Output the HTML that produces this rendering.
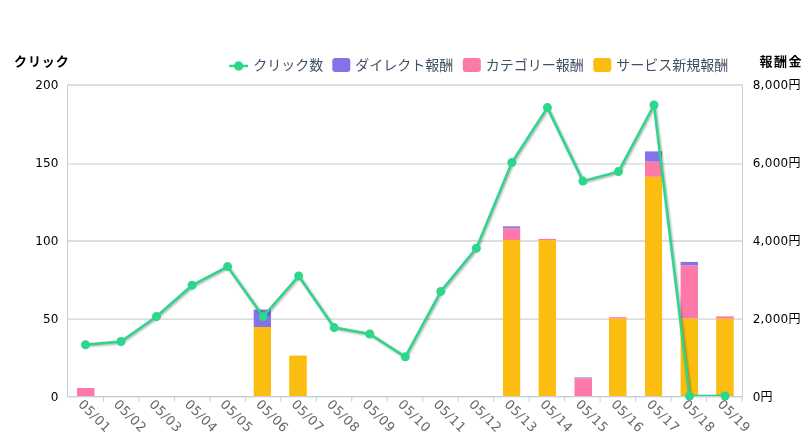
<!DOCTYPE html>
<html lang="ja"><head><meta charset="utf-8"><title>chart</title>
<style>
html,body{margin:0;padding:0;background:#fff;}
body{width:808px;height:437px;overflow:hidden;}
svg{display:block;will-change:transform;}
text{font-family:"DejaVu Sans","Liberation Sans","Noto Sans CJK JP",sans-serif;}
.jp{font-family:"Liberation Sans","Noto Sans CJK JP",sans-serif;}
.yl{font-size:12px;fill:#000;letter-spacing:0.15px;}
.xl{font-size:13px;fill:#686868;letter-spacing:0.45px;}
.lg{font-size:14px;fill:#3f5066;}
.ttl{font-size:13px;font-weight:bold;fill:#000;letter-spacing:0.9px;}
</style></head><body>
<svg width="808" height="437" viewBox="0 0 808 437">
<rect x="0" y="0" width="808" height="437" fill="#fff"/>
<rect x="68" y="84" width="674" height="1" fill="#dddfdf"/><rect x="68" y="85" width="674" height="1" fill="#dcdede"/>
<rect x="68" y="163" width="674" height="1" fill="#e2e4e4"/><rect x="68" y="164" width="674" height="1" fill="#e8e9e9"/>
<rect x="68" y="240" width="674" height="1" fill="#dcdede"/><rect x="68" y="241" width="674" height="1" fill="#dcdede"/>
<rect x="68" y="318" width="674" height="1" fill="#e6e8e8"/><rect x="68" y="319" width="674" height="1" fill="#dcdede"/>
<rect x="67" y="84.5" width="1" height="312" fill="#c0cfe2"/>
<rect x="742" y="84.5" width="1" height="312" fill="#c0cfe2"/>
<rect x="68" y="397" width="674" height="1" fill="#eceeee"/>
<rect x="67" y="396" width="676" height="1" fill="#c0cfe2"/>
<rect x="102.97" y="396" width="1" height="5.8" fill="#c0cfe2"/>
<rect x="138.45" y="396" width="1" height="5.8" fill="#c0cfe2"/>
<rect x="173.92" y="396" width="1" height="5.8" fill="#c0cfe2"/>
<rect x="209.40" y="396" width="1" height="5.8" fill="#c0cfe2"/>
<rect x="244.87" y="396" width="1" height="5.8" fill="#c0cfe2"/>
<rect x="280.34" y="396" width="1" height="5.8" fill="#c0cfe2"/>
<rect x="315.82" y="396" width="1" height="5.8" fill="#c0cfe2"/>
<rect x="351.29" y="396" width="1" height="5.8" fill="#c0cfe2"/>
<rect x="386.77" y="396" width="1" height="5.8" fill="#c0cfe2"/>
<rect x="422.24" y="396" width="1" height="5.8" fill="#c0cfe2"/>
<rect x="457.71" y="396" width="1" height="5.8" fill="#c0cfe2"/>
<rect x="493.19" y="396" width="1" height="5.8" fill="#c0cfe2"/>
<rect x="528.66" y="396" width="1" height="5.8" fill="#c0cfe2"/>
<rect x="564.14" y="396" width="1" height="5.8" fill="#c0cfe2"/>
<rect x="599.61" y="396" width="1" height="5.8" fill="#c0cfe2"/>
<rect x="635.08" y="396" width="1" height="5.8" fill="#c0cfe2"/>
<rect x="670.56" y="396" width="1" height="5.8" fill="#c0cfe2"/>
<rect x="706.03" y="396" width="1" height="5.8" fill="#c0cfe2"/>
<rect x="741.51" y="396" width="1" height="5.8" fill="#c0cfe2"/>
<rect x="77" y="388" width="17.40" height="8.00" fill="#fd79a8"/>
<rect x="253.7" y="309.6" width="17.30" height="17.40" fill="#8572e9"/>
<rect x="253.7" y="327.0" width="17.30" height="69.00" fill="#fabd10"/>
<rect x="289.2" y="355.6" width="17.60" height="40.40" fill="#fabd10"/>
<rect x="503" y="226.4" width="17.20" height="2.20" fill="#8572e9"/>
<rect x="503" y="228.6" width="17.20" height="11.60" fill="#fd79a8"/>
<rect x="503" y="240.2" width="17.20" height="155.80" fill="#fabd10"/>
<rect x="538.6" y="238.9" width="17.40" height="1.30" fill="#fd79a8"/>
<rect x="538.6" y="240.2" width="17.40" height="155.80" fill="#fabd10"/>
<rect x="574.5" y="377.4" width="17.50" height="1.00" fill="#8572e9"/>
<rect x="574.5" y="378.4" width="17.50" height="17.60" fill="#fd79a8"/>
<rect x="609" y="317.2" width="17.50" height="1.40" fill="#fd79a8"/>
<rect x="609" y="318.6" width="17.50" height="77.40" fill="#fabd10"/>
<rect x="645" y="151.4" width="17.10" height="10.30" fill="#8572e9"/>
<rect x="645" y="161.7" width="17.10" height="15.15" fill="#fd79a8"/>
<rect x="645" y="176.85" width="17.10" height="219.15" fill="#fabd10"/>
<rect x="680.6" y="261.9" width="17.40" height="3.70" fill="#8572e9"/>
<rect x="680.6" y="265.6" width="17.40" height="53.00" fill="#fd79a8"/>
<rect x="680.6" y="318.6" width="17.40" height="77.40" fill="#fabd10"/>
<rect x="716.2" y="316.4" width="17.50" height="2.20" fill="#fd79a8"/>
<rect x="716.2" y="318.6" width="17.50" height="77.40" fill="#fabd10"/>
<defs><clipPath id="pc"><rect x="68" y="80" width="675" height="316"/></clipPath></defs>
<g clip-path="url(#pc)">
<polyline points="85.50,344.70 121.03,341.55 156.56,316.45 192.09,285.30 227.62,266.60 263.15,316.60 298.68,276.00 334.21,327.60 369.74,334.00 405.27,356.85 440.80,291.40 476.33,248.20 511.86,162.50 547.39,107.60 582.92,181.10 618.45,171.60 653.98,105.00 689.51,396.00 725.04,396.00" transform="translate(1,1)" fill="none" stroke="#000" stroke-opacity="0.045" stroke-width="6.2" stroke-linejoin="round" stroke-linecap="round"/>
<polyline points="85.50,344.70 121.03,341.55 156.56,316.45 192.09,285.30 227.62,266.60 263.15,316.60 298.68,276.00 334.21,327.60 369.74,334.00 405.27,356.85 440.80,291.40 476.33,248.20 511.86,162.50 547.39,107.60 582.92,181.10 618.45,171.60 653.98,105.00 689.51,396.00 725.04,396.00" transform="translate(1,1)" fill="none" stroke="#000" stroke-opacity="0.085" stroke-width="4.2" stroke-linejoin="round" stroke-linecap="round"/>
<polyline points="85.50,344.70 121.03,341.55 156.56,316.45 192.09,285.30 227.62,266.60 263.15,316.60 298.68,276.00 334.21,327.60 369.74,334.00 405.27,356.85 440.80,291.40 476.33,248.20 511.86,162.50 547.39,107.60 582.92,181.10 618.45,171.60 653.98,105.00 689.51,396.00 725.04,396.00" transform="translate(1,1)" fill="none" stroke="#000" stroke-opacity="0.13" stroke-width="2.2" stroke-linejoin="round" stroke-linecap="round"/>
<polyline points="85.50,344.70 121.03,341.55 156.56,316.45 192.09,285.30 227.62,266.60 263.15,316.60 298.68,276.00 334.21,327.60 369.74,334.00 405.27,356.85 440.80,291.40 476.33,248.20 511.86,162.50 547.39,107.60 582.92,181.10 618.45,171.60 653.98,105.00 689.51,396.00 725.04,396.00" fill="none" stroke="#2cd68b" stroke-width="2.5" stroke-linejoin="round" stroke-linecap="round"/>
</g>
<circle cx="85.50" cy="344.70" r="4.5" fill="#2cd68b"/>
<circle cx="121.03" cy="341.55" r="4.5" fill="#2cd68b"/>
<circle cx="156.56" cy="316.45" r="4.5" fill="#2cd68b"/>
<circle cx="192.09" cy="285.30" r="4.5" fill="#2cd68b"/>
<circle cx="227.62" cy="266.60" r="4.5" fill="#2cd68b"/>
<circle cx="263.15" cy="316.60" r="4.5" fill="#2cd68b"/>
<circle cx="298.68" cy="276.00" r="4.5" fill="#2cd68b"/>
<circle cx="334.21" cy="327.60" r="4.5" fill="#2cd68b"/>
<circle cx="369.74" cy="334.00" r="4.5" fill="#2cd68b"/>
<circle cx="405.27" cy="356.85" r="4.5" fill="#2cd68b"/>
<circle cx="440.80" cy="291.40" r="4.5" fill="#2cd68b"/>
<circle cx="476.33" cy="248.20" r="4.5" fill="#2cd68b"/>
<circle cx="511.86" cy="162.50" r="4.5" fill="#2cd68b"/>
<circle cx="547.39" cy="107.60" r="4.5" fill="#2cd68b"/>
<circle cx="582.92" cy="181.10" r="4.5" fill="#2cd68b"/>
<circle cx="618.45" cy="171.60" r="4.5" fill="#2cd68b"/>
<circle cx="653.98" cy="105.00" r="4.5" fill="#2cd68b"/>
<circle cx="689.51" cy="396.00" r="4.5" fill="#2cd68b"/>
<circle cx="725.04" cy="396.00" r="4.5" fill="#2cd68b"/>
<text class="yl" x="58.5" y="89.40" text-anchor="end">200</text>
<text class="yl" x="58.5" y="167.15" text-anchor="end">150</text>
<text class="yl" x="58.5" y="244.90" text-anchor="end">100</text>
<text class="yl" x="58.5" y="322.65" text-anchor="end">50</text>
<text class="yl" x="58.5" y="401.30" text-anchor="end">0</text>
<text class="yl" x="752.7" style="letter-spacing:0.3px" y="89.40">8,000円</text>
<text class="yl" x="752.7" style="letter-spacing:0.3px" y="167.15">6,000円</text>
<text class="yl" x="752.7" style="letter-spacing:0.3px" y="244.90">4,000円</text>
<text class="yl" x="752.7" style="letter-spacing:0.3px" y="322.65">2,000円</text>
<text class="yl" x="752.7" style="letter-spacing:0.3px" y="401.20">0円</text>
<text class="xl" transform="translate(77.50,405) rotate(45)">05/01</text>
<text class="xl" transform="translate(113.03,405) rotate(45)">05/02</text>
<text class="xl" transform="translate(148.56,405) rotate(45)">05/03</text>
<text class="xl" transform="translate(184.09,405) rotate(45)">05/04</text>
<text class="xl" transform="translate(219.62,405) rotate(45)">05/05</text>
<text class="xl" transform="translate(255.15,405) rotate(45)">05/06</text>
<text class="xl" transform="translate(290.68,405) rotate(45)">05/07</text>
<text class="xl" transform="translate(326.21,405) rotate(45)">05/08</text>
<text class="xl" transform="translate(361.74,405) rotate(45)">05/09</text>
<text class="xl" transform="translate(397.27,405) rotate(45)">05/10</text>
<text class="xl" transform="translate(432.80,405) rotate(45)">05/11</text>
<text class="xl" transform="translate(468.33,405) rotate(45)">05/12</text>
<text class="xl" transform="translate(503.86,405) rotate(45)">05/13</text>
<text class="xl" transform="translate(539.39,405) rotate(45)">05/14</text>
<text class="xl" transform="translate(574.92,405) rotate(45)">05/15</text>
<text class="xl" transform="translate(610.45,405) rotate(45)">05/16</text>
<text class="xl" transform="translate(645.98,405) rotate(45)">05/17</text>
<text class="xl" transform="translate(681.51,405) rotate(45)">05/18</text>
<text class="xl" transform="translate(717.04,405) rotate(45)">05/19</text>
<text class="ttl jp" x="14" y="65.8">クリック</text>
<text class="ttl jp" x="759.5" y="65.8" style="letter-spacing:1.5px">報酬金</text>
<rect x="229.3" y="64.75" width="18.7" height="2.4" fill="#2cd68b"/><circle cx="238.6" cy="65.95" r="4.7" fill="#2cd68b"/>
<text class="lg jp" x="253.3" y="70.0">クリック数</text>
<rect x="332.3" y="58" width="18" height="14" rx="3" ry="3" fill="#8572e9"/>
<text class="lg jp" x="355.3" y="70.0">ダイレクト報酬</text>
<rect x="462.8" y="58" width="18" height="14" rx="3" ry="3" fill="#fd79a8"/>
<text class="lg jp" x="485.8" y="70.0">カテゴリー報酬</text>
<rect x="593.3" y="58" width="18" height="14" rx="3" ry="3" fill="#fabd10"/>
<text class="lg jp" x="616.3" y="70.0">サービス新規報酬</text>
</svg>
</body></html>
